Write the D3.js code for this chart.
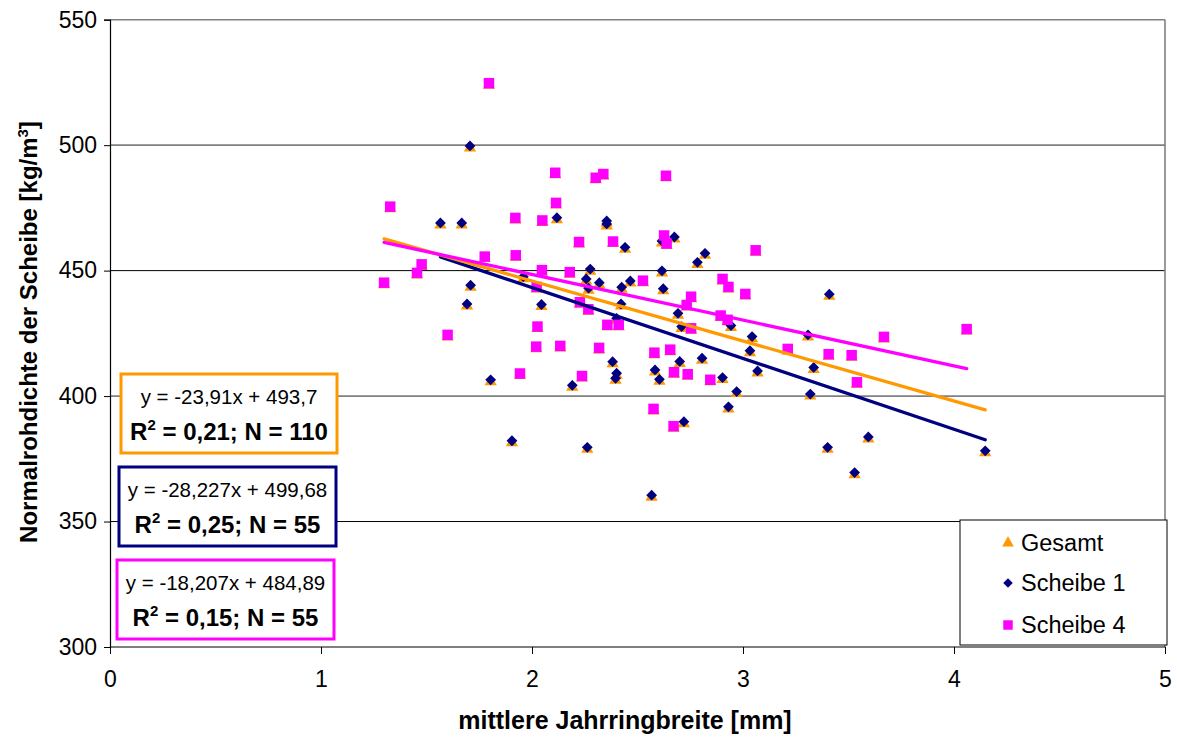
<!DOCTYPE html>
<html>
<head>
<meta charset="utf-8">
<script src="https://cdn.jsdelivr.net/npm/d3@7"></script>
<style>
  body { margin: 0; background: #fff; }
  svg { font-family: "Liberation Sans", Arial, sans-serif; }
</style>
</head>
<body>
<div id="chart"></div>
<script>
// Scheibe 1 (navy diamonds): [Jahrringbreite mm, Rohdichte kg/m3]
const scheibe1 = [
  [1.706, 499.7], [1.566, 469.0], [1.667, 469.0], [2.118, 471.1], [2.354, 469.8],
  [2.354, 468.6], [2.441, 459.3], [2.616, 461.8], [2.675, 463.4], [2.820, 456.9],
  [2.784, 453.3], [2.276, 450.6], [2.257, 446.7], [2.319, 445.2], [1.959, 447.6],
  [2.616, 449.9], [2.425, 443.4], [2.466, 445.9], [2.622, 442.8], [1.709, 444.2],
  [2.268, 443.0], [1.692, 436.7], [2.045, 436.5], [2.422, 436.7], [2.401, 431.0],
  [2.692, 433.0], [2.709, 427.7], [2.382, 413.7], [2.401, 409.1], [2.396, 407.1],
  [2.583, 410.4], [2.604, 406.7], [2.700, 413.8], [1.804, 406.5], [2.191, 404.3],
  [1.905, 382.2], [2.262, 379.6], [2.567, 360.5], [2.720, 389.8], [3.409, 440.6],
  [2.943, 428.1], [3.043, 423.7], [3.308, 424.4], [3.033, 418.1], [2.806, 415.1],
  [3.069, 410.0], [3.335, 411.4], [2.903, 407.4], [2.970, 401.8], [3.319, 400.8],
  [2.931, 395.7], [3.594, 383.7], [3.401, 379.6], [3.529, 369.5], [4.148, 378.2]
];

// Scheibe 4 (magenta squares)
const scheibe4 = [
  [1.796, 524.7], [1.328, 475.5], [2.110, 489.0], [2.302, 487.0], [2.338, 488.5],
  [2.635, 487.8], [2.114, 477.0], [1.921, 471.0], [2.049, 470.0], [2.223, 461.4],
  [2.384, 461.6], [2.626, 464.0], [2.638, 460.8], [1.776, 455.6], [1.923, 456.1],
  [1.477, 452.5], [1.455, 449.1], [1.299, 445.2], [2.047, 450.2], [2.179, 449.4],
  [2.526, 446.0], [2.022, 443.5], [2.227, 437.4], [2.267, 434.6], [2.357, 428.4],
  [2.411, 428.4], [2.026, 427.7], [1.600, 424.4], [2.020, 419.7], [2.134, 420.0],
  [2.318, 419.2], [2.580, 417.3], [2.655, 418.5], [2.673, 409.5], [2.738, 408.7],
  [1.943, 409.0], [2.237, 408.0], [2.576, 394.9], [2.671, 388.0], [2.931, 443.5],
  [3.011, 440.7], [2.754, 439.6], [2.733, 436.3], [2.894, 432.1], [2.927, 430.4],
  [2.754, 427.0], [4.060, 426.7], [3.668, 423.6], [3.212, 418.8], [3.406, 416.7],
  [3.515, 416.3], [3.540, 405.5], [2.845, 406.5], [3.060, 458.1], [2.903, 446.7]
];

// Gesamt = both discs together
const gesamt = scheibe1.concat(scheibe4);

// Linear trend lines: [slope, intercept, xStart, xEnd]
const trendGesamt = [-23.91, 493.7, 1.299, 4.148];
const trendScheibe1 = [-28.227, 499.68, 1.566, 4.148];
const trendScheibe4 = [-18.207, 484.89, 1.299, 4.060];

const xTicks = [0, 1, 2, 3, 4, 5];
const yTicks = [300, 350, 400, 450, 500, 550];
const legendNames = ['Gesamt', 'Scheibe 1', 'Scheibe 4'];
const eqLines = ['y = -23,91x + 493,7', 'y = -28,227x + 499,68', 'y = -18,207x + 484,89'];
const statLines = [['0,21', '110'], ['0,25', '55'], ['0,15', '55']];

const W = 1177, H = 738;
const plot = { left: 110, right: 1165, top: 19.7, bottom: 647 };
const colors = { gesamt: '#FF9900', s1: '#000080', s4: '#FF00FF' };

const svg = d3.select('#chart').append('svg')
  .attr('width', W).attr('height', H);

const x = d3.scaleLinear().domain([0, 5]).range([plot.left, plot.right]);
const y = d3.scaleLinear().domain([300, 550]).range([plot.bottom, plot.top]);

// gridlines
svg.append('g').selectAll('line')
  .data(yTicks.filter(v => v > 300))
  .join('line')
  .attr('x1', plot.left).attr('x2', plot.right)
  .attr('y1', d => y(d)).attr('y2', d => y(d))
  .attr('stroke', d => (d === 450 || d === 350) ? '#000' : '#808080')
  .attr('stroke-width', d => (d === 450 || d === 350) ? 1 : 1.6);

// right border
svg.append('line')
  .attr('x1', plot.right).attr('x2', plot.right)
  .attr('y1', plot.top).attr('y2', plot.bottom)
  .attr('stroke', '#808080').attr('stroke-width', 1.6);

// axes
const yAxis = d3.axisLeft(y).tickValues(yTicks).tickSize(6).tickPadding(7);
const xAxis = d3.axisBottom(x).tickValues(xTicks).tickSize(7)
  .tickPadding(17).tickFormat(d3.format('d'));

const gy = svg.append('g').attr('transform', `translate(${plot.left},0)`).call(yAxis);
const gx = svg.append('g').attr('transform', `translate(0,${plot.bottom})`).call(xAxis);
[gx, gy].forEach(g => {
  g.select('.domain').attr('stroke', '#000').attr('stroke-width', 1.2);
  g.selectAll('.tick line').attr('stroke', '#000');
  g.selectAll('.tick text')
    .attr('font-size', 23).attr('fill', '#000')
    .attr('font-family', '"Liberation Sans", Arial, sans-serif');
});
gx.select('.domain').attr('d', `M${plot.left},0H${plot.right}`);

// axis titles
svg.append('text')
  .attr('x', 625).attr('y', 729)
  .attr('text-anchor', 'middle')
  .attr('font-size', 25).attr('font-weight', 'bold')
  .text('mittlere Jahrringbreite [mm]');

const yt = svg.append('text')
  .attr('transform', `translate(37,332) rotate(-90)`)
  .attr('text-anchor', 'middle')
  .attr('font-size', 24).attr('font-weight', 'bold');
yt.append('tspan').text('Normalrohdichte der Scheibe [kg/m');
yt.append('tspan').attr('dy', -9).attr('font-size', 15).text('3');
yt.append('tspan').attr('dy', 9).text(']');

// trend lines
const line = d3.line().x(d => x(d[0])).y(d => y(d[1]));
function trendPts(t) {
  return [t[2], t[3]].map(v => [v, t[0] * v + t[1]]);
}

// markers
const triangle = d3.symbol().type(d3.symbolTriangle).size(65);
const diamond = d3.symbol().type(d3.symbolSquare).size(58);
const square = d3.symbol().type(d3.symbolSquare).size(110);

svg.append('g').selectAll('path')
  .data(gesamt).join('path')
  .attr('transform', d => `translate(${x(d[0])},${y(d[1]) + 2})`)
  .attr('d', triangle)
  .attr('fill', colors.gesamt);

svg.append('g').selectAll('path')
  .data(scheibe1).join('path')
  .attr('transform', d => `translate(${x(d[0])},${y(d[1])}) rotate(45)`)
  .attr('d', diamond)
  .attr('fill', colors.s1);

svg.append('g').selectAll('path')
  .data(scheibe4).join('path')
  .attr('transform', d => `translate(${x(d[0])},${y(d[1])})`)
  .attr('d', square)
  .attr('fill', colors.s4);

[[trendScheibe1, colors.s1], [trendGesamt, colors.gesamt], [trendScheibe4, colors.s4]]
  .forEach(([t, c]) => {
    svg.append('path')
      .attr('d', line(trendPts(t)))
      .attr('fill', 'none')
      .attr('stroke', c)
      .attr('stroke-width', 3.3)
      .attr('stroke-linecap', 'round');
  });

// equation boxes
const boxes = [
  { x: 121, y: 374, w: 216, h: 79, c: colors.gesamt },
  { x: 119, y: 467, w: 217, h: 79, c: colors.s1 },
  { x: 117, y: 560, w: 217, h: 79, c: colors.s4 }
];
boxes.forEach((b, i) => {
  const g = svg.append('g');
  g.append('rect')
    .attr('x', b.x).attr('y', b.y).attr('width', b.w).attr('height', b.h)
    .attr('fill', '#fff').attr('stroke', b.c).attr('stroke-width', 3);
  g.append('text')
    .attr('x', b.x + b.w / 2).attr('y', b.y + 30)
    .attr('text-anchor', 'middle').attr('font-size', 20.5)
    .text(eqLines[i]);
  const t = g.append('text')
    .attr('x', b.x + b.w / 2).attr('y', b.y + 66)
    .attr('text-anchor', 'middle').attr('font-size', 24).attr('font-weight', 'bold');
  t.append('tspan').text('R');
  t.append('tspan').attr('dy', -10).attr('font-size', 15).text('2');
  t.append('tspan').attr('dy', 10).text(` = ${statLines[i][0]}; N = ${statLines[i][1]}`);
});

// legend
const lg = svg.append('g');
lg.append('rect')
  .attr('x', 960).attr('y', 520).attr('width', 207).attr('height', 125)
  .attr('fill', '#fff').attr('stroke', '#000').attr('stroke-width', 1);
const legendSyms = [
  [d3.symbol().type(d3.symbolTriangle).size(60), colors.gesamt, ''],
  [d3.symbol().type(d3.symbolSquare).size(45), colors.s1, ' rotate(45)'],
  [d3.symbol().type(d3.symbolSquare).size(90), colors.s4, '']
];
const legendY = [543, 583, 625];
legendNames.forEach((name, i) => {
  lg.append('path')
    .attr('transform', `translate(1008,${legendY[i]})${legendSyms[i][2]}`)
    .attr('d', legendSyms[i][0])
    .attr('fill', legendSyms[i][1]);
  lg.append('text')
    .attr('x', 1021).attr('y', legendY[i] + 8)
    .attr('font-size', 23.5)
    .text(name);
});
</script>
</body>
</html>
